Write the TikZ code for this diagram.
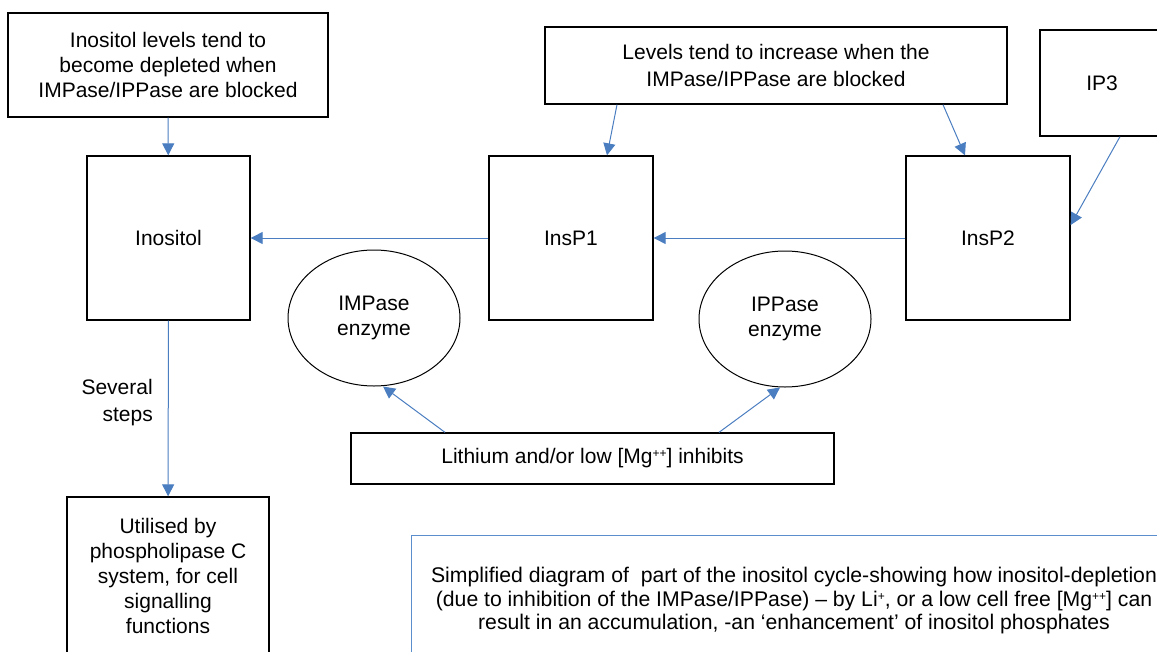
\documentclass[tikz,border=0pt]{standalone}
\usepackage{fontspec}
\setmainfont{Liberation Sans}
\usetikzlibrary{shapes.geometric,arrows.meta,calc}
\definecolor{myblue}{RGB}{74,126,192}
\definecolor{capblue}{RGB}{91,142,204}

\begin{document}
\begin{tikzpicture}[x=1pt,y=-1pt,
        box/.style={rectangle,draw,line width=1.3pt,align=center,inner sep=0pt,font=\fontsize{21}{25}\selectfont},
        enz/.style={ellipse,draw,line width=1pt,align=center,inner sep=0pt,minimum width=172pt,minimum height=136pt,font=\fontsize{21}{25}\selectfont},
        arr/.style={-{Triangle[length=12pt,width=12pt]},color=myblue,line width=1pt}]

        \useasboundingbox (0,0) rectangle (1157,651);

        \node[box, minimum width=320pt, minimum height=104pt] (Top) at (168,65) {Inositol levels tend to\\become depleted when\\IMPase/IPPase are blocked};
        \node[box, minimum width=462pt, minimum height=77pt, font=\fontsize{21}{26.5}\selectfont] (Lev) at (776,65.5) {Levels tend to increase when the\\IMPase/IPPase are blocked};
        \node[box, minimum width=124pt, minimum height=106pt] (IP3) at (1102,83) {IP3};
        \node[box, minimum width=163pt, minimum height=164pt] (Ino) at (168.5,238) {Inositol};
        \node[box, minimum width=164pt, minimum height=164pt] (P1) at (571,238) {InsP1};
        \node[box, minimum width=164pt, minimum height=164pt] (P2) at (988,238) {InsP2};
        \node[enz] (IM) at (374,318) {IMPase\\enzyme};
        \node[enz] (IP) at (785,319) {IPPase\\enzyme};
        \node[box, minimum width=483pt, minimum height=51pt] (Li) at (592.5,458.5) {Lithium and/or low [Mg{\fontsize{12}{12}\selectfont\raisebox{6pt}{++}}] inhibits};
        \node[box, minimum width=202pt, minimum height=158pt] (Use) at (168,576) {Utilised by\\phospholipase C\\system, for cell\\signalling\\functions};
        \node[box, draw=capblue, line width=1pt, minimum width=766pt, minimum height=132pt, font=\fontsize{21.2}{23.5}\selectfont] (Cap) at (794,601) {Simplified diagram of\ \ part of the inositol cycle-showing how inositol-depletion\\(due to inhibition of the IMPase/IPPase) -- by Li{\fontsize{12}{12}\selectfont\raisebox{6pt}{+}}, or a low cell free [Mg{\fontsize{12}{12}\selectfont\raisebox{6pt}{++}}] can\\result in an accumulation, -an ‘enhancement’ of inositol phosphates};

        \draw[arr] (Top) -- (Ino);
        \draw[arr] (P1) -- (Ino);
        \draw[arr] (P2) -- (P1);
        \draw[arr] (Ino) -- node[pos=.465, left=15pt, inner sep=0pt, align=right, text=black, font=\fontsize{21}{27}\selectfont] {Several\\steps} (Use);
        \draw[arr] ($(Lev.south)+(-159,0)$) -- ($(P1.north)+(36,0)$);
        \draw[arr] ($(Lev.south)+(167,0)$) -- ($(P2.north)+(-23,0)$);
        \draw[arr] ($(IP3.south)+(18,0)$) -- ($(P2.east)+(0,-13)$);
        \draw[arr] ($(Li.north)+(-147.5,0)$) -- ($(IM.south)+(9,0)$);
        \draw[arr] ($(Li.north)+(126.5,0)$) -- ($(IP.south)+(-5,0)$);
    \end{tikzpicture}
\end{document}
